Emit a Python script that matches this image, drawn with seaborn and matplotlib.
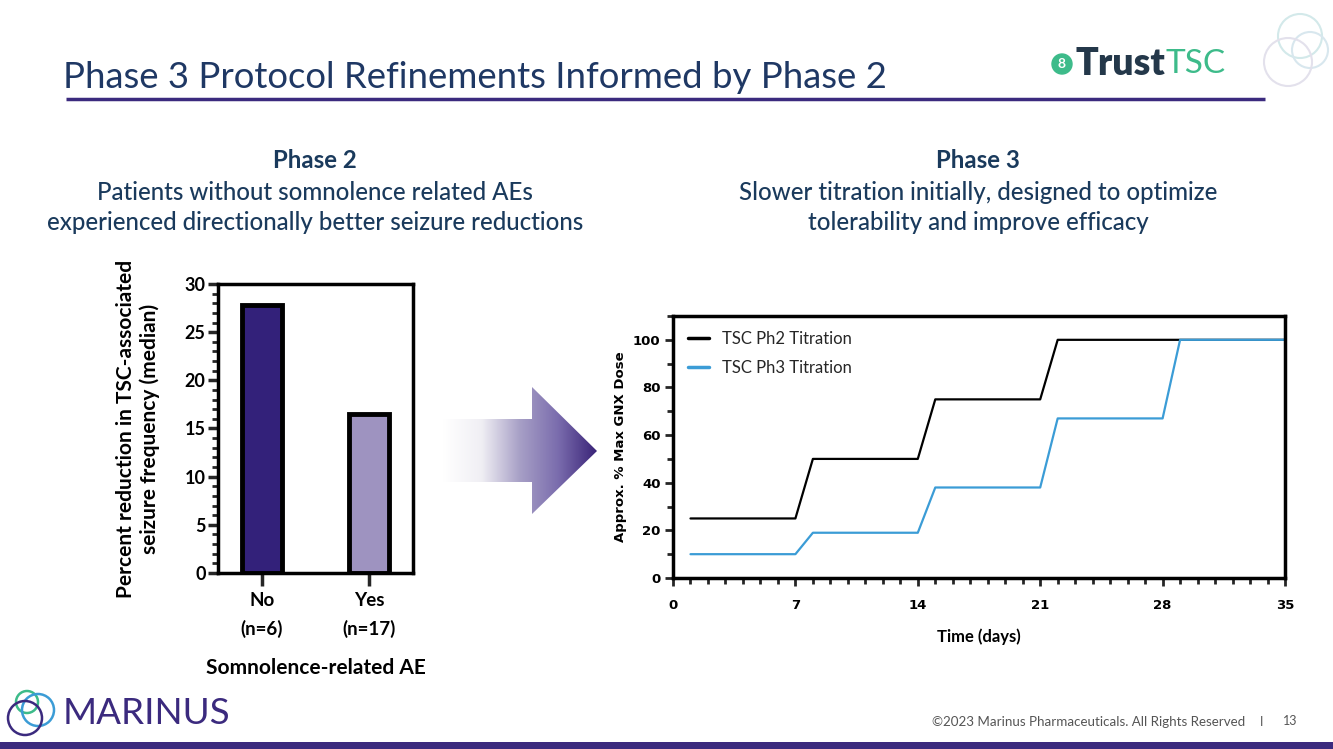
import numpy as np
import pandas as pd
import matplotlib
matplotlib.use("Agg")
import matplotlib.pyplot as plt
from matplotlib.patches import Circle, Polygon
from matplotlib.ticker import MultipleLocator
from matplotlib.colors import LinearSegmentedColormap
import seaborn as sns

# ---------------- data ----------------
bar_categories = ["No\n(n=6)", "Yes\n(n=17)"]
bar_values = [27.8, 16.5]
bar_colors = ["#33217a", "#9e93c0"]

ph2_days = [1, 7, 8, 14, 15, 21, 22, 28, 29, 35]
ph2_dose = [25, 25, 50, 50, 75, 75, 100, 100, 100, 100]
ph3_days = [1, 7, 8, 14, 15, 21, 22, 28, 29, 35]
ph3_dose = [10, 10, 19, 19, 38, 38, 67, 67, 100, 100]
series_names = ["TSC Ph2 Titration", "TSC Ph3 Titration"]
line_colors = ["#000000", "#3b9cd6"]
x_ticks = [0, 7, 14, 21, 28, 35]
y_ticks_right = [0, 20, 40, 60, 80, 100]
y_ticks_left = [0, 5, 10, 15, 20, 25, 30]

sns.set_theme(style="white")
plt.rcParams["font.family"] = ["Lato", "DejaVu Sans"]

W, H = 1333, 749
fig = plt.figure(figsize=(W / 100, H / 100), dpi=100)
fig.patch.set_facecolor("white")

# overlay axes in pixel coords
ov = fig.add_axes([0, 0, 1, 1], zorder=0)
ov.set_xlim(0, W)
ov.set_ylim(H, 0)
ov.axis("off")

navy = "#1f3864"
purple = "#3b2a7e"

# title
ov.text(63, 77, "Phase 3 Protocol Refinements Informed by Phase 2", fontsize=26.3,
        color=navy, va="center", ha="left")
ov.plot([66, 1265], [99, 99], color=purple, lw=2.5, solid_capstyle="butt")

# TrustTSC logo
ov.add_patch(Circle((1062, 64), 10, color="#3dbb8a"))
ov.text(1062, 64, "8", fontsize=10, color="white", ha="center", va="center", fontweight="bold")
ov.text(1075, 64, "Trust", fontsize=27, color="#24384a", fontweight="heavy", va="center", ha="left")
ov.text(1166, 64, "TSC", fontsize=24, color="#3dbb8a", fontweight="normal", va="center", ha="left")
# decorative circles
for (cx, cy, r, c) in [(1300, 36, 22, "#d3e9ea"), (1310, 50, 18, "#d8e7ee"), (1288, 62, 24, "#e3e1ec")]:
    ov.add_patch(Circle((cx, cy), r, fill=False, ec=c, lw=1.5))

# subtitles
sub_c = "#1a3a5c"
fs_sub = 17.3
ov.text(315, 161, "Phase 2", fontsize=fs_sub, fontweight="bold", color=sub_c, ha="center", va="center")
ov.text(315, 192, "Patients without somnolence related AEs", fontsize=fs_sub, color=sub_c,
        fontweight="medium", ha="center", va="center")
ov.text(315, 222, "experienced directionally better seizure reductions", fontsize=fs_sub, color=sub_c,
        fontweight="medium", ha="center", va="center")
ov.text(978, 161, "Phase 3", fontsize=fs_sub, fontweight="bold", color=sub_c, ha="center", va="center")
ov.text(978, 192, "Slower titration initially, designed to optimize", fontsize=fs_sub, color=sub_c,
        fontweight="medium", ha="center", va="center")
ov.text(978, 222, "tolerability and improve efficacy", fontsize=fs_sub, color=sub_c,
        fontweight="medium", ha="center", va="center")

# gradient arrow
arrow = Polygon([(443, 419), (532, 419), (532, 387), (597, 451), (532, 514), (532, 482), (443, 482)],
                closed=True, fc="none", ec="none")
ov.add_patch(arrow)
grad = np.linspace(0, 1, 256).reshape(1, -1)
cmap = LinearSegmentedColormap.from_list("arr", ["#ffffff", "#f0eff4", "#a79fc6", "#7a6cad", "#3a2478"])
im = ov.imshow(grad, extent=[443, 597, 514, 387], cmap=cmap, aspect="auto", zorder=1)
im.set_clip_path(arrow)
ov.set_xlim(0, W)
ov.set_ylim(H, 0)

# footer
ov.add_patch(Circle((27, 702), 11, fill=False, ec="#3dbb8a", lw=1.8))
ov.add_patch(Circle((38, 710), 16, fill=False, ec="#3b9cd6", lw=1.8))
ov.add_patch(Circle((25, 718), 17, fill=False, ec=purple, lw=1.8))
ov.text(63, 714, "MARINUS", fontsize=26.5, color=purple, va="center", ha="left")
ov.text(1245, 722, "©2023 Marinus Pharmaceuticals. All Rights Reserved", fontsize=9.6,
        color="#555555", ha="right", va="center")
ov.text(1262, 722, "I", fontsize=9, color="#555555", ha="center", va="center")
ov.text(1290, 721, "13", fontsize=9, color="#555555", ha="center", va="center")
ov.add_patch(plt.Rectangle((0, 742), W, 7, color=purple, lw=0))

# ---------------- left bar chart ----------------
axL = fig.add_axes([218 / W, 1 - 573 / H, 195 / W, 289 / H], zorder=2)
axL.patch.set_alpha(0)
sns.barplot(x=bar_categories, y=bar_values, hue=bar_categories, palette=bar_colors, saturation=1,
            width=0.38, edgecolor="black", linewidth=3.5, legend=False, ax=axL)
axL.set_xlim(-0.41, 1.41)
axL.set_ylim(0, 30)
axL.set_yticks(y_ticks_left)
axL.yaxis.set_minor_locator(MultipleLocator(1))
for s in axL.spines.values():
    s.set_linewidth(2.5)
    s.set_color("black")
axL.tick_params(axis="y", which="major", direction="out", length=7, width=2.5, left=True,
                labelsize=13, pad=2)
axL.tick_params(axis="y", which="minor", direction="out", length=4, width=2, left=True)
axL.tick_params(axis="x", which="major", direction="out", length=9, width=2.5, bottom=True,
                labelsize=13.5, pad=5)
for lab in axL.get_xticklabels() + axL.get_yticklabels():
    lab.set_fontweight("bold")
    lab.set_color("black")
for lab in axL.get_xticklabels():
    lab.set_linespacing(1.7)
axL.set_xlabel("Somnolence-related AE", fontsize=15, fontweight="bold", color="black", labelpad=14)
axL.set_ylabel("Percent reduction in TSC-associated\nseizure frequency (median)", fontsize=15,
               fontweight="bold", color="black", labelpad=18)
axL.grid(False)

# ---------------- right line chart ----------------
axR = fig.add_axes([673 / W, 1 - 578 / H, 612 / W, 262 / H], zorder=2)
axR.patch.set_alpha(0)
df = pd.concat([
    pd.DataFrame({"day": ph2_days, "dose": ph2_dose, "series": series_names[0]}),
    pd.DataFrame({"day": ph3_days, "dose": ph3_dose, "series": series_names[1]}),
])
sns.lineplot(data=df, x="day", y="dose", hue="series", palette=line_colors, estimator=None,
             linewidth=1.6, ax=axR)
axR.set_xlim(0, 35)
axR.set_ylim(0, 110)
axR.set_xticks(x_ticks)
axR.set_yticks(y_ticks_right)
axR.xaxis.set_minor_locator(MultipleLocator(1))
axR.yaxis.set_minor_locator(MultipleLocator(10))
for s in axR.spines.values():
    s.set_linewidth(2.5)
    s.set_color("black")
axR.tick_params(axis="both", which="major", direction="out", length=6, width=2, left=True, bottom=True,
                labelsize=9.5, pad=3)
axR.tick_params(axis="x", which="major", pad=9)
axR.tick_params(axis="both", which="minor", direction="out", length=4, width=2, left=True, bottom=True)
for lab in axR.get_xticklabels() + axR.get_yticklabels():
    lab.set_fontweight("bold")
    lab.set_color("black")
    lab.set_family(["DejaVu Sans"])
axR.set_xlabel("Time (days)", fontsize=12, fontweight="bold", color="black", labelpad=12)
axR.set_ylabel("Approx. % Max GNX Dose", fontsize=9.5, fontweight="bold", color="black", labelpad=4,
               family=["DejaVu Sans"])
leg = axR.legend(loc="upper left", frameon=False, fontsize=12, handlelength=1.25,
                 borderaxespad=0.5, labelspacing=0.75, handletextpad=0.8)
for line in leg.get_lines():
    line.set_linewidth(2.5)
axR.grid(False)

fig.savefig("out.png", dpi=100, facecolor="white")
